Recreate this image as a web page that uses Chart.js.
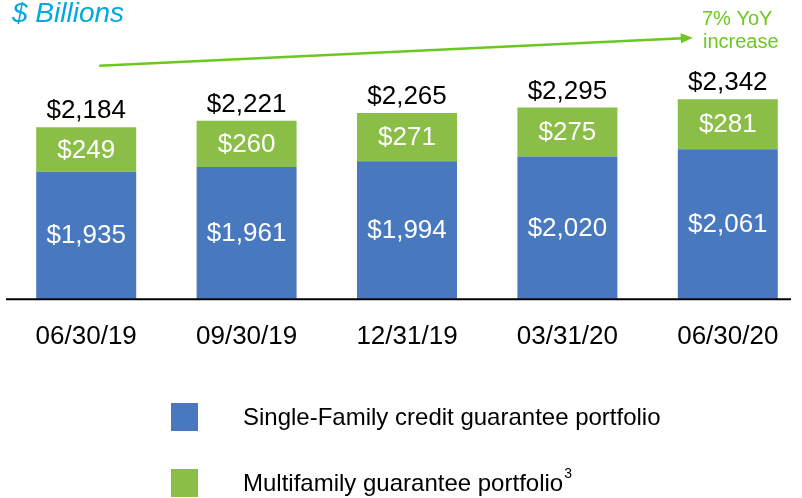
<!DOCTYPE html>
<html>
<head>
<meta charset="utf-8">
<script src="https://cdn.jsdelivr.net/npm/chart.js@4.4.1/dist/chart.umd.min.js"></script>
<style>
  html, body { margin: 0; padding: 0; background: #fff; overflow: hidden; }
  #wrap { position: relative; width: 810px; height: 498px; }
</style>
</head>
<body>
<div id="wrap"><canvas id="portfolioChart"></canvas></div>
<script>
const categories = ["06/30/19", "09/30/19", "12/31/19", "03/31/20", "06/30/20"];
const singleFamily = [1935, 1961, 1994, 2020, 2061];
const multifamily = [249, 260, 271, 275, 281];
const seriesNames = ["Single-Family credit guarantee portfolio", "Multifamily guarantee portfolio"];
const footnotes = ["", "3"];

const BLUE = "#4878BE";
const GREEN = "#8BBE46";
const ARROW_GREEN = "#6CC81E";
const FONT = "'Liberation Sans', Arial, sans-serif";

const fmt = (v) => "$" + v.toLocaleString("en-US");

// labels inside the segments and the totals above the bars
const valueLabels = {
  id: "valueLabels",
  afterDatasetsDraw(chart) {
    const ctx = chart.ctx;
    const bottom = chart.chartArea.bottom;
    ctx.save();
    ctx.font = "26px " + FONT;
    ctx.textAlign = "center";
    chart.data.datasets.forEach((ds, i) => {
      chart.getDatasetMeta(i).data.forEach((bar, j) => {
        const base = Math.min(bar.base, bottom);
        ctx.fillStyle = "#fff";
        ctx.textBaseline = "middle";
        ctx.fillText(fmt(ds.data[j]), bar.x, (bar.y + base) / 2 + 1);
      });
    });
    const last = chart.getDatasetMeta(chart.data.datasets.length - 1).data;
    last.forEach((bar, j) => {
      const total = chart.data.datasets.reduce((s, ds) => s + ds.data[j], 0);
      ctx.fillStyle = "#000";
      ctx.textBaseline = "alphabetic";
      ctx.fillText(fmt(total), bar.x, bar.y - 9);
    });
    ctx.restore();
  }
};

// baseline, title, growth arrow and legend
const decorations = {
  id: "decorations",
  afterDraw(chart) {
    const ctx = chart.ctx;
    const area = chart.chartArea;
    const x = chart.scales.x;
    ctx.save();

    // axis line
    ctx.strokeStyle = "#000";
    ctx.lineWidth = 2;
    ctx.beginPath();
    ctx.moveTo(area.left, area.bottom + 0.5);
    ctx.lineTo(area.right - 17, area.bottom + 0.5);
    ctx.stroke();

    // unit title
    ctx.fillStyle = "#00A9E0";
    ctx.font = "italic 28px " + FONT;
    ctx.textAlign = "left";
    ctx.textBaseline = "alphabetic";
    ctx.fillText("$ Billions", 12, 22);

    // YoY arrow
    const x0 = x.getPixelForValue(0) + 13, y0 = 65.7;
    const x1 = x.getPixelForValue(categories.length - 1) - 35, y1 = 37.7;
    const ang = Math.atan2(y1 - y0, x1 - x0);
    ctx.strokeStyle = ARROW_GREEN;
    ctx.fillStyle = ARROW_GREEN;
    ctx.lineWidth = 2.5;
    ctx.beginPath();
    ctx.moveTo(x0, y0);
    ctx.lineTo(x1 - 10 * Math.cos(ang), y1 - 10 * Math.sin(ang));
    ctx.stroke();
    ctx.beginPath();
    ctx.moveTo(x1, y1);
    ctx.lineTo(x1 - 12 * Math.cos(ang) + 5 * Math.sin(ang), y1 - 12 * Math.sin(ang) - 5 * Math.cos(ang));
    ctx.lineTo(x1 - 12 * Math.cos(ang) - 5 * Math.sin(ang), y1 - 12 * Math.sin(ang) + 5 * Math.cos(ang));
    ctx.closePath();
    ctx.fill();
    ctx.font = "20px " + FONT;
    ctx.fillText("7% YoY", 702, 25);
    ctx.fillText("increase", 703, 48);

    // legend
    const rows = [403, 469];
    chart.data.datasets.forEach((ds, i) => {
      const top = rows[i];
      ctx.fillStyle = ds.backgroundColor;
      ctx.fillRect(171, top, 27, 28);
      ctx.fillStyle = "#000";
      ctx.font = "24px " + FONT;
      ctx.fillText(ds.label, 243, top + 22);
      if (footnotes[i]) {
        const w = ctx.measureText(ds.label).width;
        ctx.font = "14px " + FONT;
        ctx.fillText(footnotes[i], 243 + w + 1, top + 9);
      }
    });
    ctx.restore();
  }
};

new Chart(document.getElementById("portfolioChart"), {
  type: "bar",
  data: {
    labels: categories,
    datasets: [
      { label: seriesNames[0], data: singleFamily, backgroundColor: BLUE },
      { label: seriesNames[1], data: multifamily, backgroundColor: GREEN }
    ]
  },
  options: {
    responsive: true,
    maintainAspectRatio: false,
    animation: false,
    layout: { padding: { left: 6, right: 2, top: 0, bottom: 124 } },
    datasets: { bar: { barPercentage: 0.6234, categoryPercentage: 1 } },
    scales: {
      x: {
        stacked: true,
        grid: { display: false, drawTicks: false },
        border: { display: false },
        ticks: { color: "#000", font: { size: 26, family: FONT }, padding: 22, maxRotation: 0 }
      },
      y: {
        stacked: true,
        display: false,
        min: 1220,
        max: 2900
      }
    },
    plugins: {
      legend: { display: false },
      tooltip: { enabled: false }
    }
  },
  plugins: [valueLabels, decorations]
});
</script>
</body>
</html>
